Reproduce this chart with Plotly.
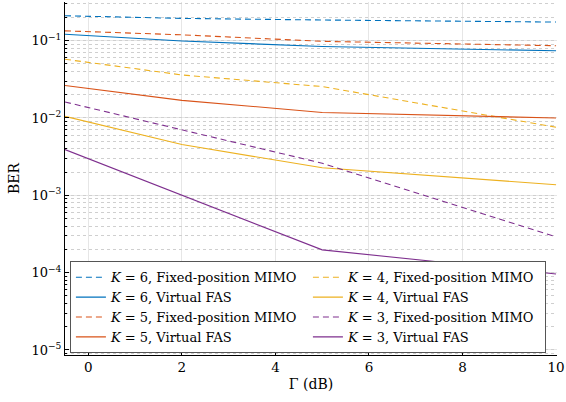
import plotly.graph_objects as go

gamma_db = [-0.5, 2, 5, 10]

ber_k6_mimo = [0.210, 0.194, 0.185, 0.174]
ber_k6_vfas = [0.121, 0.099, 0.084, 0.074]
ber_k5_mimo = [0.134, 0.119, 0.098, 0.086]
ber_k5_vfas = [0.0263, 0.0169, 0.0118, 0.0100]
ber_k4_mimo = [0.0575, 0.036, 0.0255, 0.0076]
ber_k4_vfas = [0.0105, 0.00453, 0.00227, 0.00137]
ber_k3_mimo = [0.0161, 0.00706, 0.0026, 0.00029]
ber_k3_vfas = [0.0039, 0.00100, 0.000197, 0.000096]

BLUE = "#0072BD"
RED = "#D95319"
YEL = "#EDB120"
PUR = "#7E2F8E"

# order chosen so the row-wise legend reads column-wise like the reference
series = [
    ("<i>K</i> = 6, Fixed-position MIMO", ber_k6_mimo, BLUE, True),
    ("<i>K</i> = 4, Fixed-position MIMO", ber_k4_mimo, YEL, True),
    ("<i>K</i> = 6, Virtual FAS", ber_k6_vfas, BLUE, False),
    ("<i>K</i> = 4, Virtual FAS", ber_k4_vfas, YEL, False),
    ("<i>K</i> = 5, Fixed-position MIMO", ber_k5_mimo, RED, True),
    ("<i>K</i> = 3, Fixed-position MIMO", ber_k3_mimo, PUR, True),
    ("<i>K</i> = 5, Virtual FAS", ber_k5_vfas, RED, False),
    ("<i>K</i> = 3, Virtual FAS", ber_k3_vfas, PUR, False),
]

fig = go.Figure()
for i, (name, ys, col, dashed) in enumerate(series):
    fig.add_trace(go.Scatter(
        x=gamma_db, y=ys, mode="lines", name=name,
        yaxis="y2" if i == len(series) - 1 else "y",
        line=dict(color=col, width=1.1, dash="6px,4px" if dashed else "solid"),
    ))

ytickvals = [1e-5, 1e-4, 1e-3, 1e-2, 1e-1]
yticktext = ["10<sup>−5</sup>", "10<sup>−4</sup>", "10<sup>−3</sup>", "10<sup>−2</sup>", "10<sup>−1</sup>"]

FONT = "DejaVu Serif"
YRANGE = [-5.065, -0.5]

fig.update_layout(
    width=566, height=402,
    margin=dict(l=65, r=9, t=2, b=47, autoexpand=False),
    plot_bgcolor="white", paper_bgcolor="white",
    font=dict(family=FONT, size=13, color="black"),
    showlegend=True,
    legend=dict(
        orientation="h", x=0.01, y=0.005, xanchor="left", yanchor="bottom",
        bgcolor="white", bordercolor="#555555", borderwidth=1,
        font=dict(family=FONT, size=13, color="black"),
        entrywidth=192, entrywidthmode="pixels", itemwidth=30,
        tracegroupgap=0,
    ),
    xaxis=dict(
        range=[-0.5, 10.02], tickvals=[0, 2, 4, 6, 8, 10],
        showgrid=True, gridcolor="#e6e6e6", gridwidth=1,
        showline=True, linecolor="black", linewidth=1,
        ticks="inside", ticklen=4, tickcolor="black",
        zeroline=False, mirror=False, ticklabeloverflow="allow",
        automargin=False,
        title=dict(text="Γ (dB)", standoff=4, font=dict(size=14)),
        tickfont=dict(size=13.5),
    ),
    yaxis=dict(
        type="log", range=YRANGE,
        tickvals=ytickvals, ticktext=yticktext,
        showgrid=True, gridcolor="#e6e6e6", gridwidth=1,
        showline=True, linecolor="black", linewidth=1,
        ticks="inside", ticklen=4, tickcolor="black",
        zeroline=False, automargin=False,
        title=dict(text="BER", standoff=8, font=dict(size=14)),
        tickfont=dict(size=13),
    ),
    yaxis2=dict(
        type="log", range=YRANGE, overlaying="y", side="left",
        dtick="D1", showticklabels=False,
        showgrid=True, gridcolor="#cfcfcf", griddash="dot", gridwidth=1,
        ticks="inside", ticklen=2, tickcolor="black",
        showline=False, zeroline=False, automargin=False,
    ),
)

fig.write_html("out.html", config={"displayModeBar": False},
               post_script="document.body.style.margin='0';")
